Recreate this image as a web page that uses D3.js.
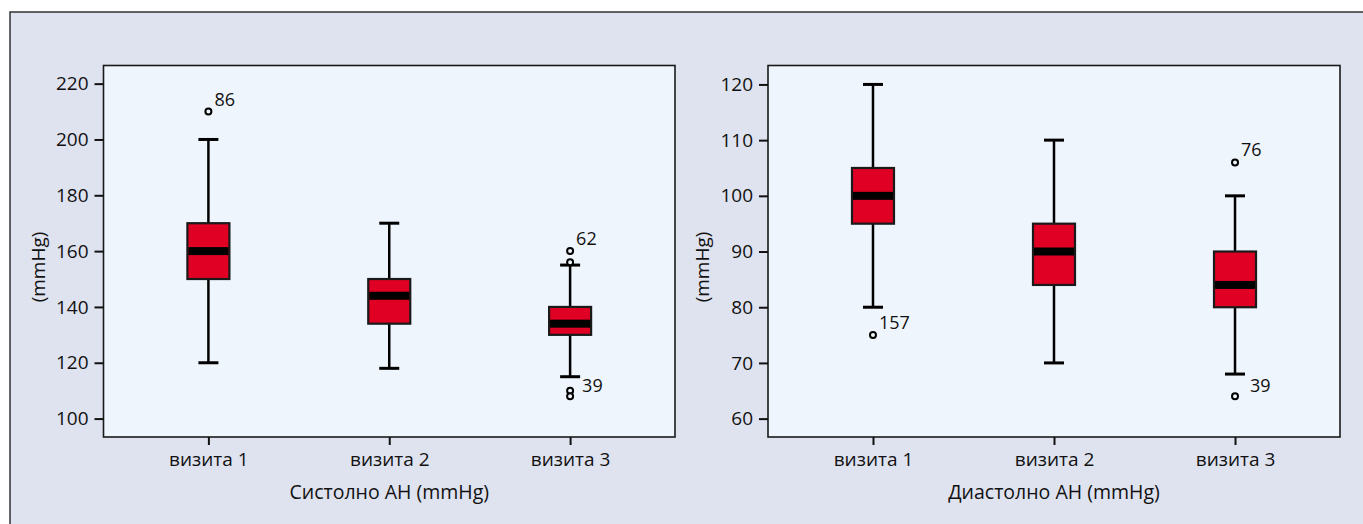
<!DOCTYPE html>
<html lang="bg">
<head>
<meta charset="utf-8">
<script src="https://cdn.jsdelivr.net/npm/d3@7"></script>
<style>
  body { margin: 0; background: #fff; }
  text { font-family: "Open Sans", "Noto Sans", sans-serif; fill: #111; }
  .tick text { font-size: 19px; }
</style>
</head>
<body>
<div id="chart"></div>
<script>
// categories
let visits = ["визита 1", "визита 2", "визита 3"];

// systolic: whisker low, Q1, median, Q3, whisker high
let sysLow = [120, 118, 115],
    sysQ1 = [150, 134, 130],
    sysMed = [160, 144, 134],
    sysQ3 = [170, 150, 140],
    sysHigh = [200, 170, 155];
let sysOutliers = [
  {v: 0, val: 210, lab: "86"},
  {v: 2, val: 160, lab: "62"},
  {v: 2, val: 156, lab: ""},
  {v: 2, val: 110, lab: "39"},
  {v: 2, val: 108, lab: ""}
];
let sysTicks = [100, 120, 140, 160, 180, 200, 220];

// diastolic
let diaLow = [80, 70, 68],
    diaQ1 = [95, 84, 80],
    diaMed = [100, 90, 84],
    diaQ3 = [105, 95, 90],
    diaHigh = [120, 110, 100];
let diaOutliers = [
  {v: 0, val: 75, lab: "157"},
  {v: 2, val: 106, lab: "76"},
  {v: 2, val: 64, lab: "39"}
];
let diaTicks = [60, 70, 80, 90, 100, 110, 120];

let W = 1363, H = 524;

var svg = d3.select("#chart").append("svg")
    .attr("width", W).attr("height", H);

// outer frame
svg.append("rect")
    .attr("x", 10).attr("y", 12)
    .attr("width", W + 20).attr("height", H + 20)
    .attr("fill", "#dfe3f0")
    .attr("stroke", "#333").attr("stroke-width", 1.5);

function panel(opt) {
    var y = d3.scaleLinear().domain(opt.domain).range([437, 65.5]);
    var x = d3.scalePoint().domain(visits).range([opt.left, opt.right]).padding(0.58);

    var g = svg.append("g");

    g.append("rect")
        .attr("x", opt.left).attr("y", 65.5)
        .attr("width", opt.right - opt.left).attr("height", 437 - 65.5)
        .attr("fill", "#eff5fd")
        .attr("stroke", "#1a1a1a").attr("stroke-width", 1.6);

    // y axis
    var ya = g.append("g")
        .attr("transform", "translate(" + opt.left + ",0)")
        .call(d3.axisLeft(y).tickValues(opt.ticks).tickSize(9).tickPadding(6));
    ya.select(".domain").remove();
    ya.selectAll(".tick line").attr("stroke", "#111").attr("stroke-width", 2);

    // x axis
    var xa = g.append("g")
        .attr("transform", "translate(0,437)")
        .call(d3.axisBottom(x).tickSize(8).tickPadding(5));
    xa.select(".domain").remove();
    xa.selectAll(".tick line").attr("stroke", "#111").attr("stroke-width", 2);
    xa.selectAll(".tick text").attr("dy", "0.85em");

    // titles
    g.append("text")
        .attr("transform", "translate(" + opt.ylabX + ",267) rotate(-90)")
        .attr("text-anchor", "middle")
        .attr("dy", "0.35em")
        .style("font-size", "19px")
        .text("(mmHg)");
    g.append("text")
        .attr("x", (opt.left + opt.right) / 2)
        .attr("y", 499)
        .attr("text-anchor", "middle")
        .style("font-size", "19.5px")
        .text(opt.title);

    var boxW = 42, capW = 20, medH = 8;
    visits.forEach(function(v, i) {
        var cx = x(v);
        // whisker
        g.append("line")
            .attr("x1", cx).attr("x2", cx)
            .attr("y1", y(opt.low[i])).attr("y2", y(opt.high[i]))
            .attr("stroke", "#000").attr("stroke-width", 2.5);
        [opt.low[i], opt.high[i]].forEach(function(w) {
            g.append("line")
                .attr("x1", cx - capW / 2).attr("x2", cx + capW / 2)
                .attr("y1", y(w)).attr("y2", y(w))
                .attr("stroke", "#000").attr("stroke-width", 3);
        });
        // box
        g.append("rect")
            .attr("x", cx - boxW / 2).attr("y", y(opt.q3[i]))
            .attr("width", boxW).attr("height", y(opt.q1[i]) - y(opt.q3[i]))
            .attr("fill", "#e00024")
            .attr("stroke", "#1a1a1a").attr("stroke-width", 2.2);
        // median
        g.append("rect")
            .attr("x", cx - boxW / 2 + 1).attr("y", y(opt.med[i]) - medH / 2)
            .attr("width", boxW - 2).attr("height", medH)
            .attr("fill", "#000");
    });

    // label shifts beside the circle; the "39" labels sit lower and further out
    var shift = {"39": opt.shift39};
    opt.outliers.forEach(function(o) {
        var cx = x(visits[o.v]), cy = y(o.val);
        g.append("circle")
            .attr("cx", cx).attr("cy", cy).attr("r", 3)
            .attr("fill", "#eff5fd")
            .attr("stroke", "#000").attr("stroke-width", 2);
        if (o.lab) {
            var s = shift[o.lab] || [6, -6];
            g.append("text")
                .attr("x", cx + s[0])
                .attr("y", cy + s[1])
                .style("font-size", "18px")
                .text(o.lab);
        }
    });
}

panel({left: 103.5, right: 675, domain: [93.4, 226.5], ticks: sysTicks,
    low: sysLow, q1: sysQ1, med: sysMed, q3: sysQ3, high: sysHigh,
    outliers: sysOutliers, title: "Систолно АН (mmHg)", ylabX: 38, shift39: [12, 1]});

panel({left: 768, right: 1340, domain: [56.7, 123.4], ticks: diaTicks,
    low: diaLow, q1: diaQ1, med: diaMed, q3: diaQ3, high: diaHigh,
    outliers: diaOutliers, title: "Диастолно АН (mmHg)", ylabX: 702, shift39: [15, -4]});
</script>
</body>
</html>
